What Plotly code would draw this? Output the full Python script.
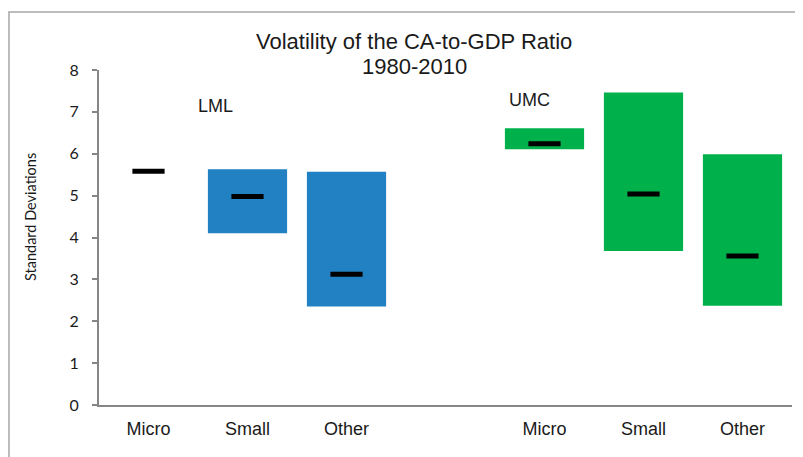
import plotly.graph_objects as go

# ---- data ----
categories = ["Micro", "Small", "Other"]
groups = ["LML", "UMC"]
lml_high = [5.58, 5.63, 5.57]
lml_low = [5.58, 4.10, 2.35]
lml_mid = [5.58, 4.98, 3.12]
umc_high = [6.61, 7.46, 5.99]
umc_low = [6.11, 3.68, 2.37]
umc_mid = [6.24, 5.04, 3.56]
y_ticks = [0, 1, 2, 3, 4, 5, 6, 7, 8]

lml_x = [i for i in range(len(categories))]
umc_x = [i + len(categories) + 1 for i in range(len(categories))]

fig = go.Figure()
fig.add_trace(go.Bar(x=lml_x, y=[h - l for h, l in zip(lml_high, lml_low)], base=lml_low,
                     width=0.8, marker=dict(color="#2181C2", line=dict(width=0)), showlegend=False))
fig.add_trace(go.Bar(x=umc_x, y=[h - l for h, l in zip(umc_high, umc_low)], base=umc_low,
                     width=0.8, marker=dict(color="#00B04A", line=dict(width=0)), showlegend=False))
fig.add_trace(go.Scatter(x=lml_x + umc_x, y=lml_mid + umc_mid, mode="markers",
                         marker=dict(symbol="line-ew", size=23, line=dict(width=5, color="black")),
                         showlegend=False))

tick_font = dict(family="Liberation Sans, Arial, sans-serif", size=18, color="#1a1a1a")
side_font = "Lato, sans-serif"

# page body has an 8px margin; the figure is sized/placed so the plot area
# lands at x 99..792, y 70..405 in the window
fig.update_layout(
    width=795, height=449,
    margin=dict(l=91, r=11, t=62, b=52),
    paper_bgcolor="white", plot_bgcolor="white",
    barmode="overlay",
    xaxis=dict(range=[-0.5, 6.5], tickvals=lml_x + umc_x, ticktext=categories + categories,
               showgrid=False, zeroline=False, showline=True, linecolor="#868686", linewidth=2,
               ticks="", tickfont=tick_font, ticklabelstandoff=6, fixedrange=True),
    yaxis=dict(range=[0, 8], tickvals=y_ticks, showgrid=False, zeroline=False,
               showline=True, linecolor="#868686", linewidth=2,
               ticks="outside", ticklen=5, tickcolor="#868686", tickwidth=1.5,
               tickfont=dict(family=side_font, size=16, color="#1a1a1a"),
               ticklabelstandoff=10),
    shapes=[dict(type="rect", xref="paper", yref="paper", x0=-0.1299, x1=2, y0=-1, y1=1.1734,
                 line=dict(color="#A6A6A6", width=1.5), fillcolor="rgba(0,0,0,0)", layer="below")],
    annotations=[
        dict(text="Volatility of the CA-to-GDP Ratio", xref="paper", yref="paper",
             x=(414 - 99) / 693, y=(405 - 41) / 335, xanchor="center", yanchor="middle",
             showarrow=False, font=dict(family="Liberation Sans, Arial, sans-serif", size=22, color="#1a1a1a")),
        dict(text="1980-2010", xref="paper", yref="paper",
             x=(414 - 99) / 693, y=(405 - 66) / 335, xanchor="center", yanchor="middle",
             showarrow=False, font=dict(family="Liberation Sans, Arial, sans-serif", size=22, color="#1a1a1a")),
        dict(text="Standard Deviations", xref="paper", yref="paper",
             x=(30 - 99) / 693, y=(405 - 217) / 335, xanchor="center", yanchor="middle",
             textangle=-90, showarrow=False, font=dict(family=side_font, size=14.5, color="#1a1a1a")),
        dict(text=groups[0], x=0.677, y=7.13, xref="x", yref="y", showarrow=False,
             xanchor="center", yanchor="middle", font=dict(family="Liberation Sans, Arial, sans-serif", size=18, color="#1a1a1a")),
        dict(text=groups[1], x=3.85, y=7.28, xref="x", yref="y", showarrow=False,
             xanchor="center", yanchor="middle", font=dict(family="Liberation Sans, Arial, sans-serif", size=18, color="#1a1a1a")),
    ],
)

fig.write_html("out.html")
